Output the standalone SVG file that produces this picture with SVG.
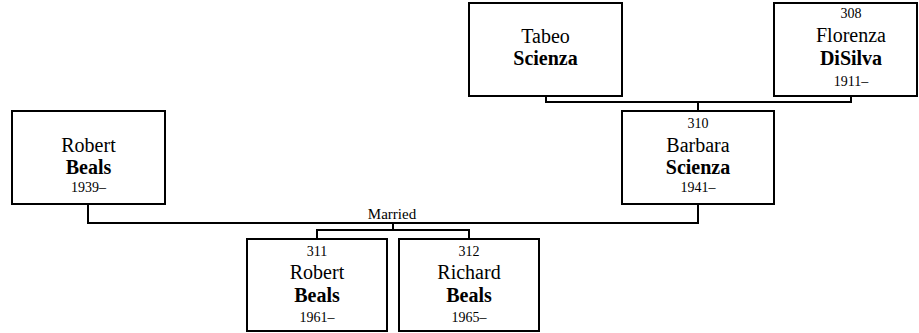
<svg xmlns="http://www.w3.org/2000/svg" width="919" height="333" viewBox="0 0 919 333">
<style>
.box{fill:#fff;stroke:#000;stroke-width:2}
.ln{fill:none;stroke:#000;stroke-width:2}
text{font-family:"Liberation Serif","Times New Roman",serif;fill:#000;text-anchor:middle}
.num{font-size:14px}
.fn{font-size:20px}
.ln2{font-size:20px;font-weight:bold}
.dt{font-size:14px}
.lbl{font-size:15px}
</style>
<rect width="919" height="333" fill="#fff"/>
<g id="connectors">
<polyline class="ln" points="546,96 546,102 851,102 851,96"/>
<line class="ln" x1="698" y1="102" x2="698" y2="111"/>
<polyline class="ln" points="88,204 88,223 698,223 698,204"/>
<text class="lbl" x="392" y="219">Married</text>
<line class="ln" x1="393" y1="223" x2="393" y2="230"/>
<polyline class="ln" points="317,239 317,230 469,230 469,239"/>
</g>
<g id="tabeo">
<rect class="box" x="469" y="3" width="153" height="93"/>
<text class="fn" x="545.5" y="42.5">Tabeo</text>
<text class="ln2" x="545.5" y="65">Scienza</text>
</g>
<g id="florenza">
<rect class="box" x="774" y="3" width="143" height="93"/>
<text class="num" x="851" y="17.5">308</text>
<text class="fn" x="851" y="42">Florenza</text>
<text class="ln2" x="851" y="64.5">DiSilva</text>
<text class="dt" x="851" y="85.5">1911–</text>
</g>
<g id="robert-sr">
<rect class="box" x="12" y="111" width="153" height="93"/>
<text class="fn" x="88.5" y="151.5">Robert</text>
<text class="ln2" x="88.5" y="173.5">Beals</text>
<text class="dt" x="88.5" y="192">1939–</text>
</g>
<g id="barbara">
<rect class="box" x="622" y="111" width="152" height="93"/>
<text class="num" x="698" y="127.5">310</text>
<text class="fn" x="698" y="151.5">Barbara</text>
<text class="ln2" x="698" y="173.5">Scienza</text>
<text class="dt" x="698" y="192">1941–</text>
</g>
<g id="robert-jr">
<rect class="box" x="247" y="239" width="140" height="92"/>
<text class="num" x="317" y="256">311</text>
<text class="fn" x="317" y="279">Robert</text>
<text class="ln2" x="317" y="301.5">Beals</text>
<text class="dt" x="317" y="322">1961–</text>
</g>
<g id="richard">
<rect class="box" x="399" y="239" width="140" height="92"/>
<text class="num" x="469" y="256">312</text>
<text class="fn" x="469" y="279">Richard</text>
<text class="ln2" x="469" y="301.5">Beals</text>
<text class="dt" x="469" y="322">1965–</text>
</g>
</svg>
